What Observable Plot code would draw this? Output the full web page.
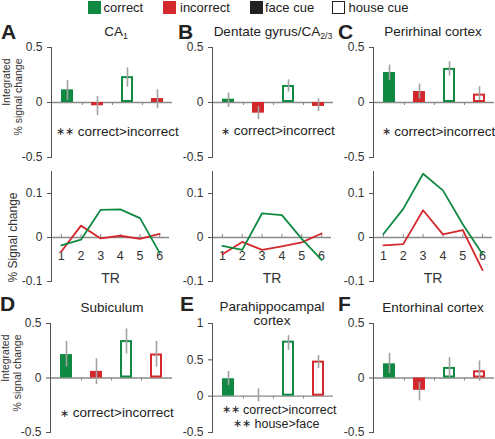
<!DOCTYPE html>
<html><head><meta charset="utf-8">
<script src="https://cdn.jsdelivr.net/npm/d3@7"></script>
<script src="https://cdn.jsdelivr.net/npm/@observablehq/plot@0.6"></script>
<style>
body{margin:0;background:#fff;font-family:"Liberation Sans",Arial,Helvetica,sans-serif;color:#222}
#root{position:relative;width:495px;height:439px;overflow:hidden;background:#fff}
#root svg{position:absolute;left:0;top:0}
.t{position:absolute;white-space:nowrap;line-height:1}
.t sub{font-size:65%;vertical-align:baseline;position:relative;top:0.35em}
.sw{position:absolute;width:13px;height:13px;box-sizing:border-box}
</style></head><body><div id="root"></div>
<script>
// ---------- data ----------
const conds = ["correct/face", "incorrect/face", "correct/house", "incorrect/house"];
const condOutcome = ["correct", "incorrect", "correct", "incorrect"];
const condCue = ["face", "face", "house", "house"];
const legendLabels = ["correct", "incorrect", "face cue", "house cue"];

// integrated % signal change (bar value, error bar low, error bar high)
const ca1Vals = [0.115, -0.03, 0.235, 0.036];
const ca1Lo   = [0.02, -0.118, 0.14, -0.057];
const ca1Hi   = [0.2, 0.055, 0.315, 0.115];
const dgVals  = [0.03, -0.097, 0.155, -0.036];
const dgLo    = [-0.045, -0.157, 0.094, -0.082];
const dgHi    = [0.085, -0.036, 0.206, 0.034];
const prcVals = [0.273, 0.1, 0.31, 0.076];
const prcLo   = [0.2, 0.03, 0.24, 0.015];
const prcHi   = [0.34, 0.167, 0.37, 0.143];
const subVals = [0.215, 0.061, 0.343, 0.22];
const subLo   = [0.1, -0.06, 0.22, 0.1];
const subHi   = [0.336, 0.176, 0.45, 0.336];
const phcVals = [0.24, 0.0, 0.757, 0.482];
const phcLo   = [0.145, -0.08, 0.63, 0.38];
const phcHi   = [0.34, 0.1, 0.834, 0.56];
const ercVals = [0.13, -0.113, 0.097, 0.066];
const ercLo   = [0.04, -0.21, 0.0, -0.03];
const ercHi   = [0.227, -0.04, 0.187, 0.157];

// time courses (% signal change by TR)
const TR = [1, 2, 3, 4, 5, 6];
const ca1Correct   = [-0.018, -0.005, 0.063, 0.064, 0.044, -0.035];
const ca1Incorrect = [-0.032, 0.027, -0.002, 0.004, -0.003, 0.008];
const dgCorrect    = [-0.019, -0.028, 0.055, 0.051, -0.003, -0.051];
const dgIncorrect  = [-0.038, -0.01, -0.028, -0.02, -0.011, 0.009];
const prcCorrect   = [0.008, 0.065, 0.145, 0.107, 0.03, -0.038];
const prcIncorrect = [-0.018, -0.015, 0.062, 0.007, 0.017, -0.074];

const barTicks = [-0.5, 0, 0.5];
const phcTicks = [-0.5, 0, 0.5, 1];
const lineTicks = [-0.1, 0, 0.1];

// ---------- styles ----------
const W = 495, H = 439;
const GREEN = "#108a42", RED = "#d3292c";
const col = {correct: GREEN, incorrect: RED};
const FONT = '"Liberation Sans", Arial, Helvetica, sans-serif';
const root = document.getElementById("root");

function baseStyle() {
  return {background: "transparent", fontFamily: FONT, fontSize: "12px", color: "#333", overflow: "visible"};
}

function barPanel({vals, lo, hi, left, right, top, bottom, domain, ticks, extra = []}) {
  const data = conds.map((c, i) => ({cond: c, outcome: condOutcome[i], cue: condCue[i], v: vals[i], lo: lo[i], hi: hi[i]}));
  const ppu = (bottom - top) / (domain[1] - domain[0]);
  return Plot.plot({
    width: W, height: H,
    marginLeft: left, marginRight: W - right, marginTop: top, marginBottom: H - bottom,
    style: baseStyle(),
    x: {domain: conds, type: "band", paddingInner: 0.6, paddingOuter: 0.3, axis: null},
    y: {domain, label: null, axis: null},
    color: {type: "identity"},
    marks: [
      Plot.ruleY([0], {stroke: "#8a8a8a", strokeWidth: 1.3}),
      Plot.ruleX(conds.slice(0, 3), {x: d => d, dx: 15, y1: 0, y2: -3 / ppu, stroke: "#8a8a8a"}),
      Plot.barY(data.filter(d => d.cue === "face"), {x: "cond", y1: 0, y2: "v", fill: d => col[d.outcome]}),
      Plot.barY(data.filter(d => d.cue === "house"), {x: "cond", y1: 0, y2: "v", fill: "white", stroke: d => col[d.outcome], strokeWidth: 2, inset: 1}),
      Plot.ruleX(data, {x: "cond", y1: "lo", y2: "hi", stroke: "#a2a2a2", strokeWidth: 1.6}),
      Plot.frame({anchor: "left", stroke: "#555"}),
      Plot.axisY({ticks, tickSize: 4, tickPadding: 5, tickFormat: d => String(d), stroke: "#555", fill: "#333", fontSize: 12, label: null}),
      ...extra
    ]
  });
}

function linePanel({correct, incorrect, left, right, extra = []}) {
  const top = 171, bottom = 281;
  const rowsC = TR.map((t, i) => ({tr: t, v: correct[i]}));
  const rowsI = TR.map((t, i) => ({tr: t, v: incorrect[i]}));
  return Plot.plot({
    width: W, height: H,
    marginLeft: left, marginRight: W - right, marginTop: top, marginBottom: H - bottom,
    style: baseStyle(),
    x: {domain: [0.5, 6.5], axis: null},
    y: {domain: [-0.1, 0.15], label: null, axis: null},
    marks: [
      Plot.ruleY([0], {stroke: "#8a8a8a", strokeWidth: 1.3}),
      Plot.ruleX(TR, {x: d => d, y1: 0, y2: 0.007, stroke: "#8a8a8a"}),
      Plot.text(TR, {x: d => d, y: 0, dy: 18, text: d => String(d), fontSize: 12.5, fill: "#333"}),
      Plot.line(rowsI, {x: "tr", y: "v", stroke: RED, strokeWidth: 1.8}),
      Plot.line(rowsC, {x: "tr", y: "v", stroke: GREEN, strokeWidth: 1.8}),
      Plot.text(["TR"], {frameAnchor: "bottom", dy: -3, lineAnchor: "middle", fontSize: 14, fill: "#333"}),
      Plot.frame({anchor: "left", stroke: "#555"}),
      Plot.axisY({ticks: lineTicks, tickSize: 4, tickPadding: 5, tickFormat: d => String(d), stroke: "#555", fill: "#333", fontSize: 12, label: null}),
      ...extra
    ]
  });
}

const yLabelsBar = (dy) => [
  Plot.text(["Integrated"], {frameAnchor: "top-left", dx: -45, dy, rotate: -90, textAnchor: "end", lineAnchor: "middle", fontSize: 10.5, fill: "#333"}),
  Plot.text(["% signal change"], {frameAnchor: "top-left", dx: -32.5, dy, rotate: -90, textAnchor: "end", lineAnchor: "middle", fontSize: 10.5, fill: "#333"})
];

// ---------- panels ----------
root.append(barPanel({vals: ca1Vals, lo: ca1Lo, hi: ca1Hi, left: 51, right: 172, top: 47, bottom: 157, domain: [-0.5, 0.5], ticks: barTicks, extra: yLabelsBar(11)}));
root.append(barPanel({vals: dgVals, lo: dgLo, hi: dgHi, left: 212, right: 333, top: 47, bottom: 157, domain: [-0.5, 0.5], ticks: barTicks}));
root.append(barPanel({vals: prcVals, lo: prcLo, hi: prcHi, left: 373, right: 494, top: 47, bottom: 157, domain: [-0.5, 0.5], ticks: barTicks}));

root.append(linePanel({correct: ca1Correct, incorrect: ca1Incorrect, left: 51, right: 169, extra: [
  Plot.text(["% Signal change"], {frameAnchor: "left", dx: -38, dy: 11, rotate: -90, textAnchor: "middle", lineAnchor: "middle", fontSize: 12, fill: "#333"})
]}));
root.append(linePanel({correct: dgCorrect, incorrect: dgIncorrect, left: 212, right: 331}));
root.append(linePanel({correct: prcCorrect, incorrect: prcIncorrect, left: 373, right: 492}));

root.append(barPanel({vals: subVals, lo: subLo, hi: subHi, left: 50, right: 172, top: 323, bottom: 432, domain: [-0.5, 0.5], ticks: barTicks, extra: yLabelsBar(11)}));
root.append(barPanel({vals: phcVals, lo: phcLo, hi: phcHi, left: 212, right: 333, top: 323, bottom: 432, domain: [-0.5, 1], ticks: phcTicks}));
root.append(barPanel({vals: ercVals, lo: ercLo, hi: ercHi, left: 373, right: 494, top: 323, bottom: 432, domain: [-0.5, 0.5], ticks: barTicks}));

// ---------- html text ----------
function label(html, x, baseline, size, {anchor = "start", weight = "normal", lh = 1} = {}) {
  const d = document.createElement("div");
  d.className = "t";
  d.innerHTML = html;
  d.style.fontSize = size + "px";
  d.style.fontWeight = weight;
  d.style.lineHeight = String(lh);
  const asc = (lh - 1.117) / 2 + 0.905;
  d.style.top = (baseline - asc * size) + "px";
  d.style.left = x + "px";
  if (anchor === "middle") d.style.transform = "translateX(-50%)";
  root.append(d);
  return d;
}

// legend
const swatches = [
  {x: 88, fill: GREEN, stroke: GREEN, tx: 103.5},
  {x: 163, fill: RED, stroke: RED, tx: 180},
  {x: 250, fill: "#222", stroke: "#222", tx: 265},
  {x: 332, fill: "#fff", stroke: "#222", tx: 348.5}
];
swatches.forEach((s, i) => {
  const b = document.createElement("div");
  b.className = "sw";
  b.style.left = s.x + "px"; b.style.top = "1px";
  b.style.background = s.fill;
  b.style.border = "1.6px solid " + s.stroke;
  root.append(b);
  label(legendLabels[i], s.tx, 12, 13, {});
});

// panel letters
[["A", 1, 39.5], ["B", 178, 39.5], ["C", 338, 39.5], ["D", 0, 311.5], ["E", 180, 311.5], ["F", 338, 311.5]]
  .forEach(([t, x, y]) => label(t, x, y, 21, {weight: "bold", lh: 0.74}));

// titles
label("CA<sub>1</sub>", 116, 36.5, 13.5, {anchor: "middle"});
label("Dentate gyrus/CA<sub>2/3</sub>", 273, 36.5, 13.5, {anchor: "middle"});
label("Perirhinal cortex", 433, 36.5, 13.5, {anchor: "middle"});
label("Subiculum", 112, 312, 13.5, {anchor: "middle"});
label("Parahippocampal", 272, 312, 13.5, {anchor: "middle", lh: 0.9});
label("cortex", 272, 325.5, 13.5, {anchor: "middle", lh: 0.9});
label("Entorhinal cortex", 433, 312, 13.5, {anchor: "middle"});

// significance notes
const star = '<span style="font-size:11px;position:relative;top:-0.05em">∗</span>';
label(star + star + " correct&gt;incorrect", 56, 136.5, 13.5, {lh: 0.9});
label(star + " correct&gt;incorrect", 221, 136, 13.5, {lh: 0.9});
label(star + " correct&gt;incorrect", 381.5, 136.5, 13.5, {lh: 0.9});
label(star + " correct&gt;incorrect", 60, 418, 13.5, {lh: 0.9});
label(star + star + " correct&gt;incorrect", 221.5, 414.5, 12.5, {lh: 0.9});
label(star + star + " house&gt;face", 233, 429, 12.5, {lh: 0.9});
</script></body></html>
